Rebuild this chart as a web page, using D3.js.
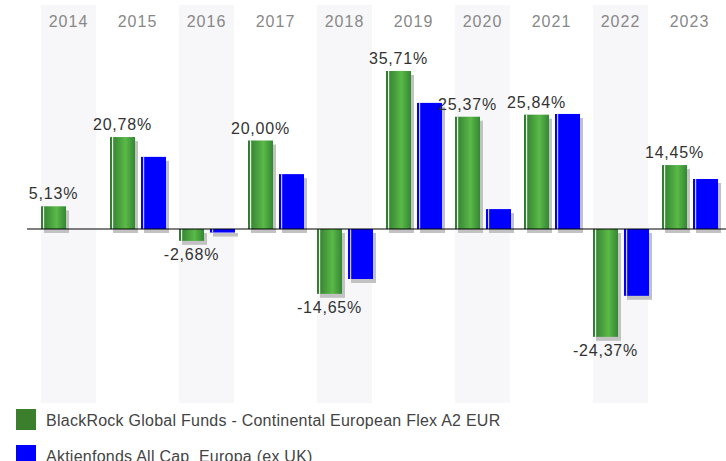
<!DOCTYPE html>
<html>
<head>
<meta charset="utf-8">
<script src="https://cdn.jsdelivr.net/npm/d3@7"></script>
<style>
  body { margin: 0; background: #fff; }
  svg { display: block; font-family: Arial, "Liberation Sans", sans-serif; }
</style>
</head>
<body>
<svg width="726" height="461"></svg>
<script>
// data
var years = ["2014", "2015", "2016", "2017", "2018", "2019", "2020", "2021", "2022", "2023"];
var fund = [5.13, 20.78, -2.68, 20.00, -14.65, 35.71, 25.37, 25.84, -24.37, 14.45];
var index = [null, 16.3, -0.8, 12.4, -11.3, 28.5, 4.5, 26.0, -15.1, 11.3];
var seriesNames = ["BlackRock Global Funds - Continental European Flex A2 EUR", "Aktienfonds All Cap  Europa (ex UK)"];

var svg = d3.select("svg");

// scales
var x = d3.scaleBand()
    .domain(years)
    .range([41, 717])
    .paddingInner(0.203)
    .paddingOuter(0);
var y = d3.scaleLinear()
    .domain([-30, 40])
    .range([361.75, 52]);

var bw = x.bandwidth();
var barW = 25;

var defs = svg.append("defs");
var grad = defs.append("linearGradient").attr("id", "green").attr("x1", 0).attr("x2", 1).attr("y1", 0).attr("y2", 0);
grad.append("stop").attr("offset", "0%").attr("stop-color", "#2f7a2f");
grad.append("stop").attr("offset", "62%").attr("stop-color", "#5ab947");
grad.append("stop").attr("offset", "100%").attr("stop-color", "#358536");

// shaded bands every other year
svg.append("g").selectAll("rect")
  .data(years.filter(function(d, i) { return i % 2 == 0; }))
  .join("rect")
    .attr("x", function(d) { return x(d); })
    .attr("y", 5)
    .attr("width", bw)
    .attr("height", 398)
    .attr("fill", "#f7f7f9");

// year labels
svg.append("g").selectAll("text")
  .data(years)
  .join("text")
    .attr("x", function(d) { return x(d) + bw / 2; })
    .attr("y", 27)
    .attr("text-anchor", "middle")
    .attr("fill", "#888")
    .style("font-size", "16px")
    .style("letter-spacing", "1px")
    .text(function(d) { return d; });

// draw bars with shadow + highlight stripe
function bars(values, dx, fill, stripe) {
  var data = values.map(function(v, i) { return {year: years[i], v: v}; })
    .filter(function(d) { return d.v != null; });
  var g = svg.append("g");
  g.selectAll(".shadow")
    .data(data)
    .join("rect")
      .attr("class", "shadow")
      .attr("x", function(d) { return x(d.year) + dx + 3; })
      .attr("y", function(d) { return Math.min(y(d.v), y(0)) + 4; })
      .attr("width", barW)
      .attr("height", function(d) { return Math.abs(y(d.v) - y(0)); })
      .attr("fill", "#c2c2c2");
  g.selectAll(".bar")
    .data(data)
    .join("rect")
      .attr("class", "bar")
      .attr("x", function(d) { return x(d.year) + dx; })
      .attr("y", function(d) { return Math.min(y(d.v), y(0)); })
      .attr("width", barW)
      .attr("height", function(d) { return Math.abs(y(d.v) - y(0)); })
      .attr("fill", fill);
  g.selectAll(".stripe")
    .data(data)
    .join("rect")
      .attr("class", "stripe")
      .attr("x", function(d) { return x(d.year) + dx + 2; })
      .attr("y", function(d) { return Math.min(y(d.v), y(0)); })
      .attr("width", 1.2)
      .attr("height", function(d) { return Math.abs(y(d.v) - y(0)); })
      .attr("fill", stripe);
}
bars(fund, 0, "url(#green)", "#e8f4e6");
bars(index, 31, "#0000ff", "#c8c8ff");

// zero line
svg.append("line")
  .attr("x1", 27).attr("x2", 726)
  .attr("y1", y(0)).attr("y2", y(0))
  .attr("stroke", "#000")
  .attr("stroke-width", 1);

// value labels
svg.append("g").selectAll("text")
  .data(fund)
  .join("text")
    .attr("x", function(d, i) { return x(years[i]) + barW / 2; })
    .attr("y", function(d) { return d >= 0 ? y(d) - 7 : y(d) + 19; })
    .attr("text-anchor", "middle")
    .attr("fill", "#333")
    .style("font-size", "16px")
    .style("letter-spacing", "0.8px")
    .text(function(d) { return d.toFixed(2).replace(".", ",") + "%"; });

// legend
var colors = ["#3b7e2c", "#0000ff"];
var leg = svg.append("g").selectAll("g")
  .data(seriesNames)
  .join("g")
    .attr("transform", function(d, i) { return "translate(16," + (409 + i * 36) + ")"; });
leg.append("rect")
  .attr("width", 20).attr("height", 21)
  .attr("fill", function(d, i) { return colors[i]; });
leg.append("text")
  .attr("x", 30)
  .attr("y", 16.7)
  .attr("fill", "#444")
  .style("font-size", "16px")
  .style("letter-spacing", "0.25px")
  .style("white-space", "pre")
  .text(function(d) { return d; });
</script>
</body>
</html>
